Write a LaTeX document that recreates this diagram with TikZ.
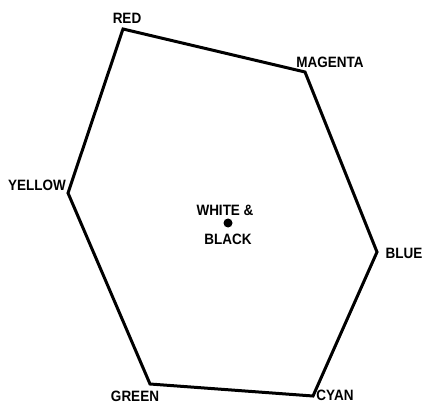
\documentclass[tikz,border=0pt]{standalone}
\usepackage{fontspec}
\setmainfont{Liberation Sans}[FakeStretch=0.9]
\usetikzlibrary{positioning}

\tikzset{
  hue/.style={font=\fontsize{15}{17}\selectfont\bfseries, inner sep=0pt},
  edge/.style={line width=3pt, line join=miter}
}

\begin{document}
\begin{tikzpicture}[x=1pt, y=-1pt]
\useasboundingbox (0,0) rectangle (425,403);
% corners of the hexagon
\coordinate (red) at (123,29);
\coordinate (magenta) at (305,72);
\coordinate (blue) at (377,252);
\coordinate (cyan) at (313,396);
\coordinate (green) at (150,384);
\coordinate (yellow) at (68,193);
\draw[edge] (red) -- (magenta) -- (blue) -- (cyan) -- (green) -- (yellow) -- cycle;
% labels
\node[hue] (redlbl) at (127,18) {RED};
\node[hue] (magentalbl) at (330,62) {MAGENTA};
\node[hue] (bluelbl) at (404,253) {BLUE};
\node[hue] (cyanlbl) at (335,395) {CYAN};
\node[hue] (greenlbl) at (135,396) {GREEN};
\node[hue] (yellowlbl) at (37,185) {YELLOW};
% centre
\fill (228,223) circle (4.5) coordinate (centre);
\node[hue] (whitelbl) at (225,210) {WHITE \&};
\node[hue] (blacklbl) at (228,239) {BLACK};
\end{tikzpicture}
\end{document}
